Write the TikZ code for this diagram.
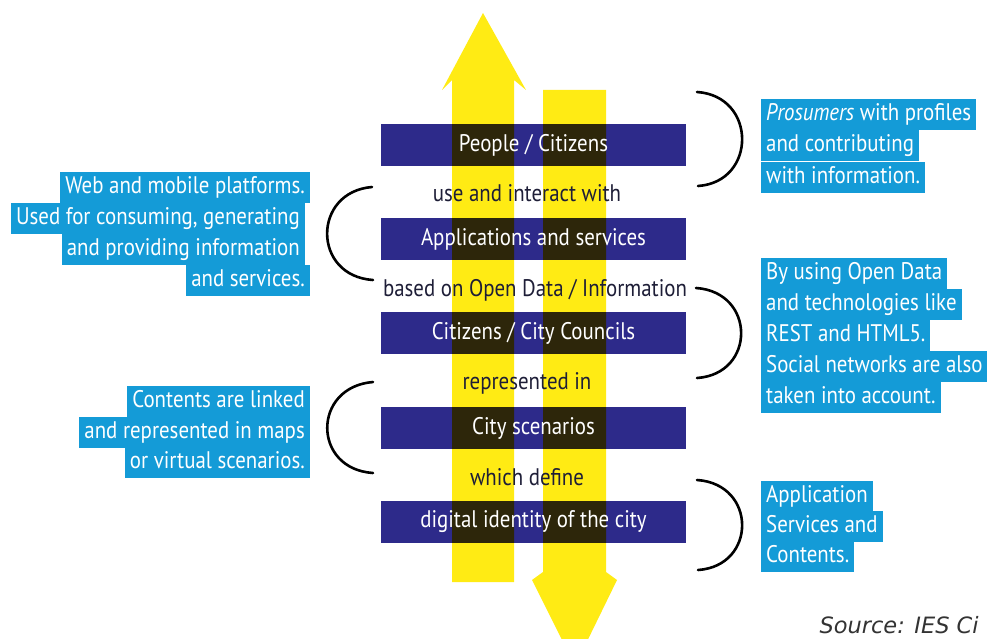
\documentclass[tikz,border=0pt]{standalone}
\usepackage{fontspec}
\setmainfont{PT Sans}[FakeStretch=0.87]
\newfontfamily\srcfont{DejaVu Sans}

\definecolor{arrowyellow}{RGB}{255,235,20}
\definecolor{barblue}{RGB}{45,42,138}
\definecolor{notecyan}{RGB}{20,155,215}
\definecolor{linkdark}{RGB}{30,30,55}

\tikzset{
  barbox/.style={fill=barblue, minimum width=305pt, minimum height=42pt, inner sep=0pt},
  bartext/.style={text=white, font=\fontsize{24}{26}\selectfont},
  linktext/.style={text=linkdark, font=\fontsize{24}{26}\selectfont},
  notebox/.style={fill=notecyan, text=white, font=\fontsize{24}{26}\selectfont,
    text height=17pt, text depth=5pt, inner xsep=5pt, inner ysep=4.5pt},
  bracketline/.style={line width=2.6pt, line cap=round},
}

\begin{document}
\begin{tikzpicture}[x=1pt,y=-1pt]
\useasboundingbox (0,0) rectangle (992,639);
\clip (0,0) rectangle (992,639);

% the two arrows
\fill[arrowyellow] (452,582) -- (452,80) -- (442,90) -- (483,13) -- (526,90)
  -- (514,80) -- (514,582) -- cycle;
\fill[arrowyellow] (543,90) -- (606,90) -- (606,572) -- (617,580) -- (575,666)
  -- (532,580) -- (543,572) -- cycle;

% bars
\begin{scope}[blend mode=multiply]
  \node[barbox] (people) at (533.5,145) {};
  \node[barbox] (apps) at (533.5,239) {};
  \node[barbox] (councils) at (533.5,333) {};
  \node[barbox] (scenarios) at (533.5,428) {};
  \node[barbox] (identity) at (533.5,522) {};
\end{scope}
\node[bartext] (peopletxt) at (people) {People / Citizens};
\node[bartext] (appstxt) at (apps) {Applications and services};
\node[bartext] (councilstxt) at (councils) {Citizens / City Councils};
\node[bartext] (scenariostxt) at (scenarios) {City scenarios};
\node[bartext] (identitytxt) at (identity) {digital identity of the city};

\node[linktext] (use) at (527,193) {use and interact with};
\node[linktext] (based) at (535,290) {based on Open Data / Information};
\node[linktext] (repr) at (527,383) {represented in};
\node[linktext] (define) at (527,477) {which define};

% brackets
\draw[bracketline] (697,92) .. controls (757,96) and (757,182) .. (698,186);
\draw[bracketline] (372,187) .. controls (312,192) and (312,276) .. (373,280);
\draw[bracketline] (696,288) .. controls (756,292) and (756,374) .. (697,378);
\draw[bracketline] (373,382) .. controls (312,387) and (312,469) .. (373,473);
\draw[bracketline] (697,480) .. controls (757,484) and (757,566) .. (698,570);

% notes
\node[notebox, anchor=east] (web1) at (310,187.5) {Web and mobile platforms.};
\node[notebox, anchor=east] (web2) at (305,218.5) {Used for consuming, generating};
\node[notebox, anchor=east] (web3) at (305,249.5) {and providing information};
\node[notebox, anchor=east] (web4) at (310,280.5) {and services.};

\node[notebox, anchor=west] (pro1) at (761,114.5) {\textit{Prosumers} with profiles};
\node[notebox, anchor=west] (pro2) at (761,146) {and contributing};
\node[notebox, anchor=west] (pro3) at (761,177.5) {with information.};

\node[notebox, anchor=west] (open1) at (761,273.5) {By using Open Data};
\node[notebox, anchor=west] (open2) at (761,304.5) {and technologies like};
\node[notebox, anchor=west] (open3) at (761,335.5) {REST and HTML5.};
\node[notebox, anchor=west] (open4) at (761,366.5) {Social networks are also};
\node[notebox, anchor=west] (open5) at (761,397.5) {taken into account.};

\node[notebox, anchor=east] (map1) at (310,401.5) {Contents are linked};
\node[notebox, anchor=east] (map2) at (310,432) {and represented in maps};
\node[notebox, anchor=east] (map3) at (310,462.5) {or virtual scenarios.};

\node[notebox, anchor=west] (serv1) at (761,496) {Application};
\node[notebox, anchor=west] (serv2) at (761,526) {Services and};
\node[notebox, anchor=west] (serv3) at (761,556) {Contents.};

\node[anchor=base west, text=black!80, font=\srcfont\itshape\fontsize{22.5}{25}\selectfont]
  (source) at (816,633) {Source: IES Ci};
\end{tikzpicture}
\end{document}
